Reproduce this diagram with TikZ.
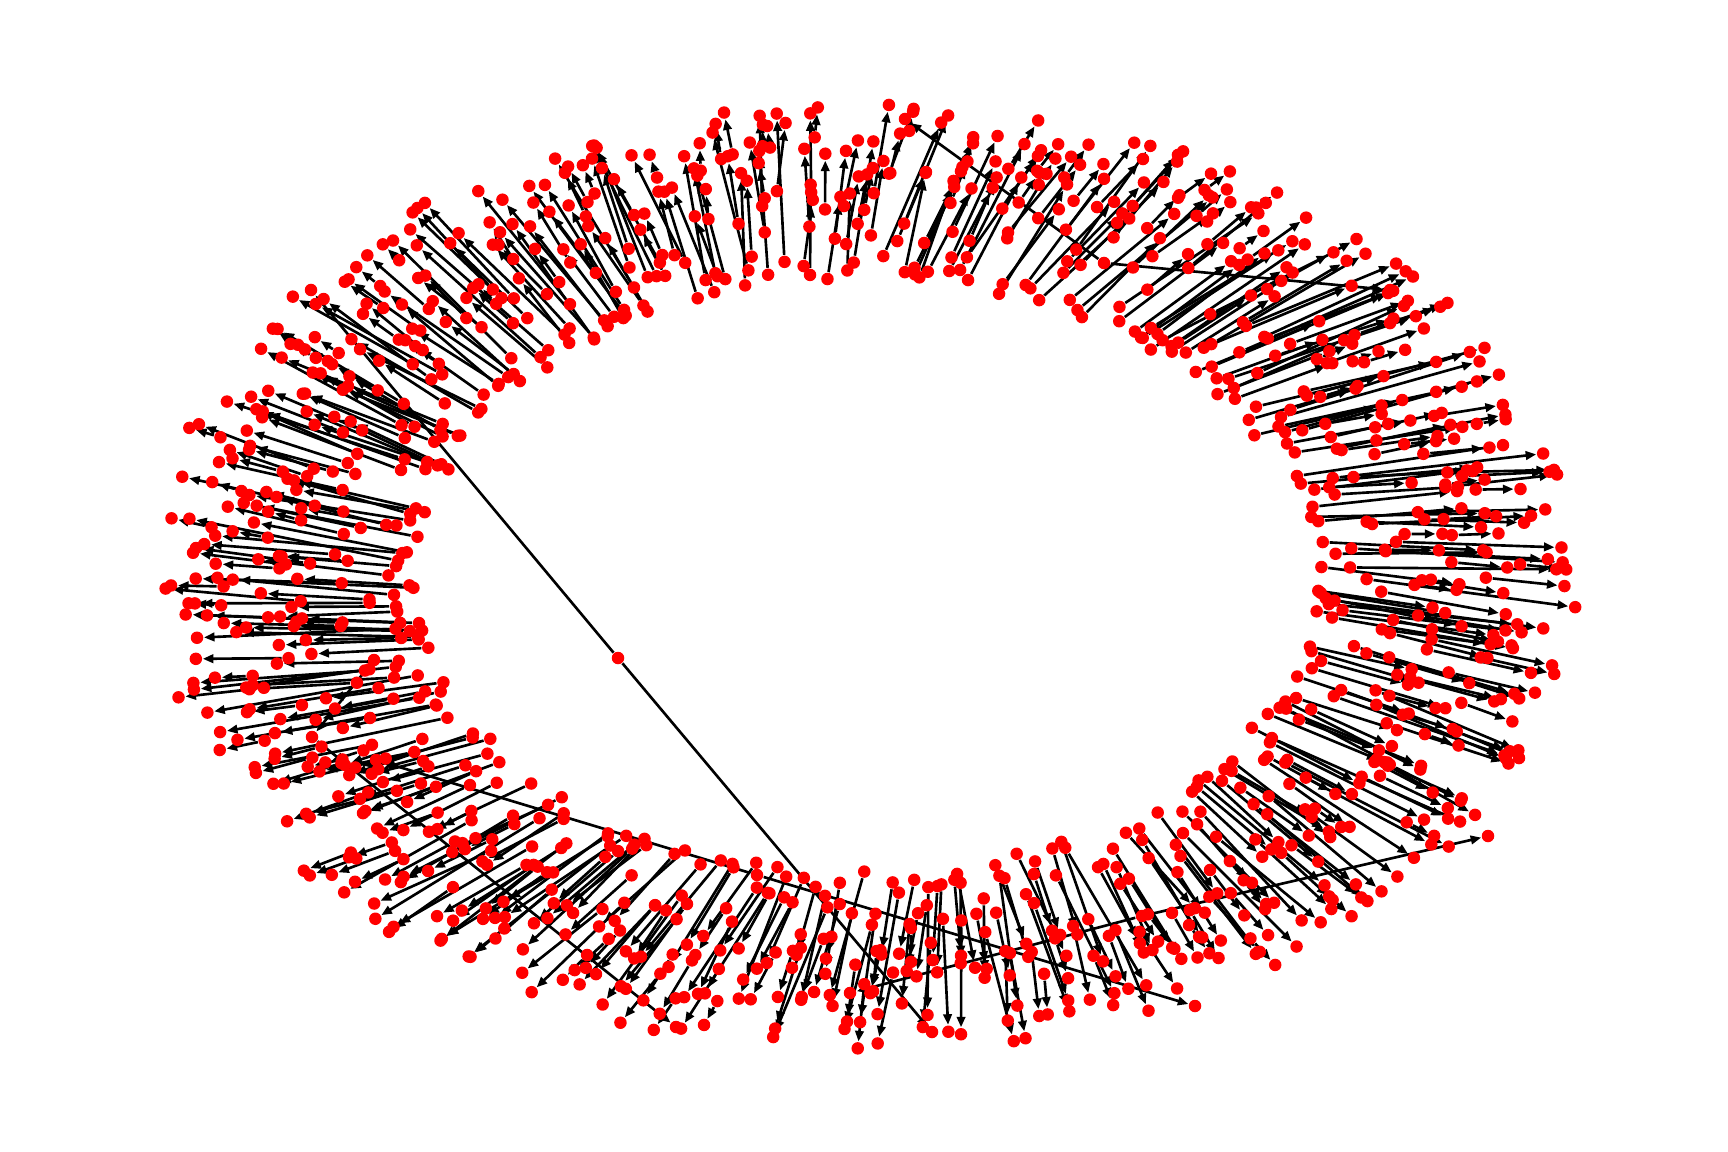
\documentclass[tikz,border=0pt]{standalone}
\usetikzlibrary{arrows.meta}
\begin{document}
\begin{tikzpicture}[x=0.01cm,y=-0.01cm]
        % Define styles
        \tikzset{
            spot/.style={circle, inner sep=0pt, minimum size=1.25mm},
            vertex/.style={spot, fill=red},
            arrow/.style={-{Triangle[length=3pt,width=2.4pt]}, line width=0.75pt, black}
        }
        \useasboundingbox (0,0) rectangle (1728,1152);

        % Ring of node pairs
        \pgfmathsetseed{1234}
        \foreach \i in {1,...,640}{
            \pgfmathsetmacro{\ang}{(\i+1.5*rand)*0.5625}
            \pgfmathsetmacro{\rout}{0.79+0.21*rnd}
            \pgfmathsetmacro{\rin}{max(\rout-0.04-0.28*rnd,0.62+0.04*rnd)}
            \pgfmathsetmacro{\tilt}{\ang+8+6*rand}
            \pgfmathsetmacro{\xin}{864+716*\rin*cos(\ang)}
            \pgfmathsetmacro{\yin}{576+476*\rin*sin(\ang)}
            \pgfmathsetmacro{\xout}{\xin+716*(\rout-\rin)*cos(\tilt)}
            \pgfmathsetmacro{\yout}{\yin+476*(\rout-\rin)*sin(\tilt)}
            \node[spot] (inner_node_\i) at (\xin,\yin) {};
            \node[spot] (outer_node_\i) at (\xout,\yout) {};
            \draw[arrow] (inner_node_\i) -- (outer_node_\i);
        }

        % Long edges
        \node[spot] (hub_a) at (618,658) {};
        \node[spot] (end_a_1) at (311,290) {};
        \node[spot] (end_a_2) at (932,1032) {};
        \node[spot] (hub_b) at (1104,263) {};
        \node[spot] (end_b_1) at (905,119) {};
        \node[spot] (end_b_2) at (1390,290) {};
        \node[spot] (hub_c) at (757,875) {};
        \node[spot] (end_c_1) at (376,760) {};
        \node[spot] (end_c_2) at (1195,1006) {};
        \node[spot] (hub_d) at (1142,916) {};
        \node[spot] (end_d_1) at (850,993) {};
        \node[spot] (end_d_2) at (1488,836) {};
        \node[spot] (start_e) at (374,660) {};
        \node[spot] (hub_e) at (312,737) {};
        \node[spot] (end_f) at (676,1027) {};
        \draw[arrow] (hub_a) -- (end_a_1);
        \draw[arrow] (hub_a) -- (end_a_2);
        \draw[arrow] (hub_b) -- (end_b_1);
        \draw[arrow] (hub_b) -- (end_b_2);
        \draw[arrow] (hub_c) -- (end_c_1);
        \draw[arrow] (hub_c) -- (end_c_2);
        \draw[arrow] (hub_d) -- (end_d_1);
        \draw[arrow] (hub_d) -- (end_d_2);
        \draw[arrow] (start_e) -- (hub_e);
        \draw[arrow] (hub_e) -- (end_f);

        % Red dots on top
        \foreach \i in {1,...,640}{
            \node[vertex] at (inner_node_\i) {};
            \node[vertex] at (outer_node_\i) {};
        }
        \foreach \n in {hub_a,end_a_1,end_a_2,hub_b,end_b_1,end_b_2,hub_c,end_c_1,end_c_2,hub_d,end_d_1,end_d_2,start_e,hub_e,end_f}
            \node[vertex] at (\n) {};
\end{tikzpicture}
\end{document}
